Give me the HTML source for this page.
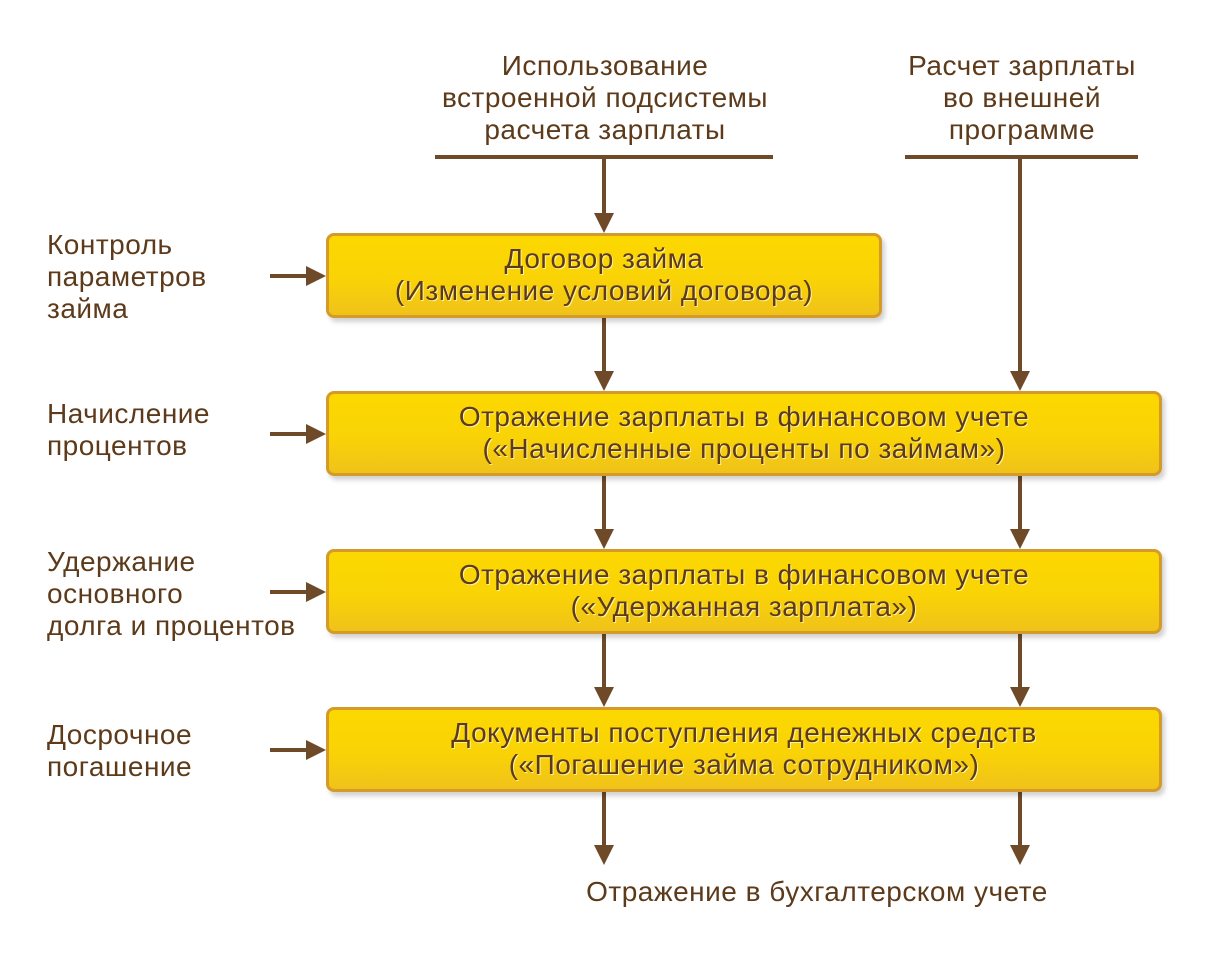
<!DOCTYPE html>
<html><head><meta charset="utf-8"><style>
body{margin:0;background:#fff;width:1219px;height:963px;position:relative;overflow:hidden;font-family:"Liberation Sans",Arial,sans-serif;color:#5c3a1a}
.t{position:absolute;font-size:28px;line-height:32px;letter-spacing:0.5px;white-space:nowrap}
.c{text-align:center}
.box{position:absolute;box-sizing:border-box;border:3px solid #d49a2a;border-radius:8px;background:linear-gradient(#fcd800 0%,#f9d306 55%,#f0c21a 100%);box-shadow:3px 4px 5px rgba(0,0,0,0.18);text-align:center;font-size:28px;line-height:32px;letter-spacing:0.5px;white-space:nowrap;color:#5c3a1a;text-shadow:1px 1px 0 #fff3a0;padding-top:7px}
svg{position:absolute;left:0;top:0}
</style></head><body>
<svg width="1219" height="963">
<g stroke="#6e4a28" stroke-width="4" fill="none">
<line x1="435" y1="157" x2="773" y2="157"/>
<line x1="905" y1="157" x2="1138" y2="157"/>
<line x1="604" y1="157" x2="604" y2="215"/>
<line x1="604" y1="318" x2="604" y2="373"/>
<line x1="604" y1="476" x2="604" y2="531"/>
<line x1="604" y1="634" x2="604" y2="689"/>
<line x1="604" y1="792" x2="604" y2="847"/>
<line x1="1020" y1="157" x2="1020" y2="373"/>
<line x1="1020" y1="476" x2="1020" y2="531"/>
<line x1="1020" y1="634" x2="1020" y2="689"/>
<line x1="1020" y1="792" x2="1020" y2="847"/>
<line x1="270" y1="276" x2="308" y2="276"/>
<line x1="270" y1="434" x2="308" y2="434"/>
<line x1="270" y1="592" x2="308" y2="592"/>
<line x1="270" y1="750" x2="308" y2="750"/>
</g>
<g fill="#6e4a28">
<polygon points="594,213 614,213 604,233"/>
<polygon points="594,371 614,371 604,391"/>
<polygon points="594,529 614,529 604,549"/>
<polygon points="594,687 614,687 604,707"/>
<polygon points="594,845 614,845 604,865"/>
<polygon points="1010,371 1030,371 1020,391"/>
<polygon points="1010,529 1030,529 1020,549"/>
<polygon points="1010,687 1030,687 1020,707"/>
<polygon points="1010,845 1030,845 1020,865"/>
<polygon points="306,266 306,286 326,276"/>
<polygon points="306,424 306,444 326,434"/>
<polygon points="306,582 306,602 326,592"/>
<polygon points="306,740 306,760 326,750"/>
</g>
</svg>
<div class="t c" style="left:405px;top:50px;width:400px">Использование<br>встроенной подсистемы<br>расчета зарплаты</div>
<div class="t c" style="left:872px;top:50px;width:300px">Расчет зарплаты<br>во внешней<br>программе</div>
<div class="t" style="left:47px;top:229px">Контроль<br>параметров<br>займа</div>
<div class="t" style="left:47px;top:398px">Начисление<br>процентов</div>
<div class="t" style="left:47px;top:546px">Удержание<br>основного<br>долга и процентов</div>
<div class="t" style="left:47px;top:719px">Досрочное<br>погашение</div>
<div class="box" style="left:326px;top:233px;width:556px;height:85px">Договор займа<br>(Изменение условий договора)</div>
<div class="box" style="left:326px;top:391px;width:836px;height:85px">Отражение зарплаты в финансовом учете<br>(«Начисленные проценты по займам»)</div>
<div class="box" style="left:326px;top:549px;width:836px;height:85px">Отражение зарплаты в финансовом учете<br>(«Удержанная зарплата»)</div>
<div class="box" style="left:326px;top:707px;width:836px;height:85px">Документы поступления денежных средств<br>(«Погашение займа сотрудником»)</div>
<div class="t c" style="left:417px;top:876px;width:800px">Отражение в бухгалтерском учете</div>
</body></html>
